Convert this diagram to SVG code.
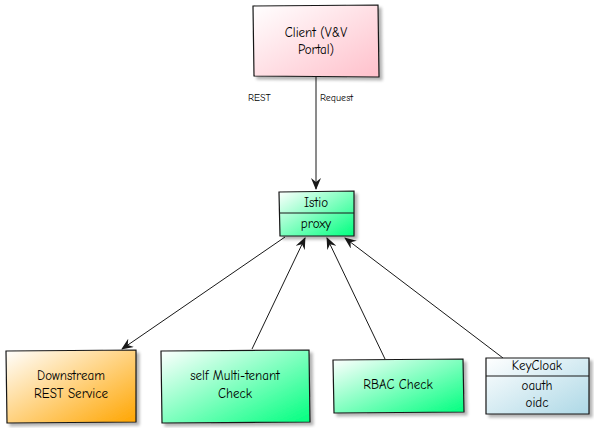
<svg xmlns="http://www.w3.org/2000/svg" width="594" height="428" viewBox="0 0 594 428">
<style>
text{font-family:"Comic Neue","Liberation Sans",sans-serif;font-size:13px;fill:#000;text-anchor:middle}
.lbl{font-size:10px;text-anchor:start}
.box{stroke:#181818;stroke-width:1.2;filter:url(#sh)}
.ln{stroke:#181818;stroke-width:1;fill:none}
</style>
<defs>
<linearGradient id="gPink" x1="0" y1="0" x2="1" y2="1"><stop offset="0" stop-color="#FFFFFF"/><stop offset="1" stop-color="#FFC0CB"/></linearGradient>
<linearGradient id="gGreen" x1="0" y1="0" x2="1" y2="1"><stop offset="0" stop-color="#FFFFFF"/><stop offset="1" stop-color="#00FF7F"/></linearGradient>
<linearGradient id="gOrange" x1="0" y1="0" x2="1" y2="1"><stop offset="0" stop-color="#FFFFFF"/><stop offset="1" stop-color="#FFA500"/></linearGradient>
<linearGradient id="gBlue" x1="0" y1="0" x2="1" y2="1"><stop offset="0" stop-color="#FFFFFF"/><stop offset="1" stop-color="#ADD8E6"/></linearGradient>
<filter id="sh" x="-10%" y="-10%" width="130%" height="130%"><feGaussianBlur in="SourceAlpha" stdDeviation="1.5"/><feOffset dx="3" dy="3"/><feComponentTransfer><feFuncA type="linear" slope="0.3"/></feComponentTransfer><feMerge><feMergeNode/><feMergeNode in="SourceGraphic"/></feMerge></filter>
<marker id="arr" viewBox="0 0 12 10" refX="11" refY="5" markerWidth="12" markerHeight="10" markerUnits="userSpaceOnUse" orient="auto"><path d="M0,0 L12,5 L0,10 L4,5 z" fill="#181818"/></marker>
</defs>
<g id="connectors">
<path class="ln" d="M316,77 L316,189" marker-end="url(#arr)"/>
<text class="lbl" x="248" y="101">REST</text>
<text class="lbl" x="320" y="101">Request</text>
<path class="ln" d="M285,237 L122,349" marker-end="url(#arr)"/>
<path class="ln" d="M252,349 L305,238" marker-end="url(#arr)"/>
<path class="ln" d="M385,359 L327,238" marker-end="url(#arr)"/>
<path class="ln" d="M503,358 L345,238" marker-end="url(#arr)"/>
</g>
<g id="client">
<path class="box" fill="url(#gPink)" d="M253,6 L378,5 L379,77 L254,76 Z"/>
<text x="316" y="37">Client (V&amp;V</text>
<text x="316" y="54">Portal)</text>
</g>
<g id="istio">
<path class="box" fill="url(#gGreen)" d="M279,192 L354,191 L354,236 L280,236 Z"/>
<path class="ln" d="M279,213 L354,213"/>
<text x="316" y="207">Istio</text>
<text x="316" y="228">proxy</text>
</g>
<g id="downstream">
<path class="box" fill="url(#gOrange)" d="M6,351 L136,350 L136,422 L7,423 Z"/>
<text x="71" y="380">Downstream</text>
<text x="71" y="398">REST Service</text>
</g>
<g id="selfcheck">
<path class="box" fill="url(#gGreen)" d="M161,351 L309,350 L310,422 L162,423 Z"/>
<text x="235" y="380">self Multi-tenant</text>
<text x="235" y="398">Check</text>
</g>
<g id="rbac">
<path class="box" fill="url(#gGreen)" d="M333,360 L463,359 L464,412 L334,413 Z"/>
<text x="398" y="389">RBAC Check</text>
</g>
<g id="keycloak">
<path class="box" fill="url(#gBlue)" d="M486,358 L589,358 L589,414 L486,414 Z"/>
<path class="ln" d="M486,376 L589,376"/>
<text x="537" y="370">KeyCloak</text>
<text x="537" y="390">oauth</text>
<text x="537" y="407">oidc</text>
</g>
</svg>
